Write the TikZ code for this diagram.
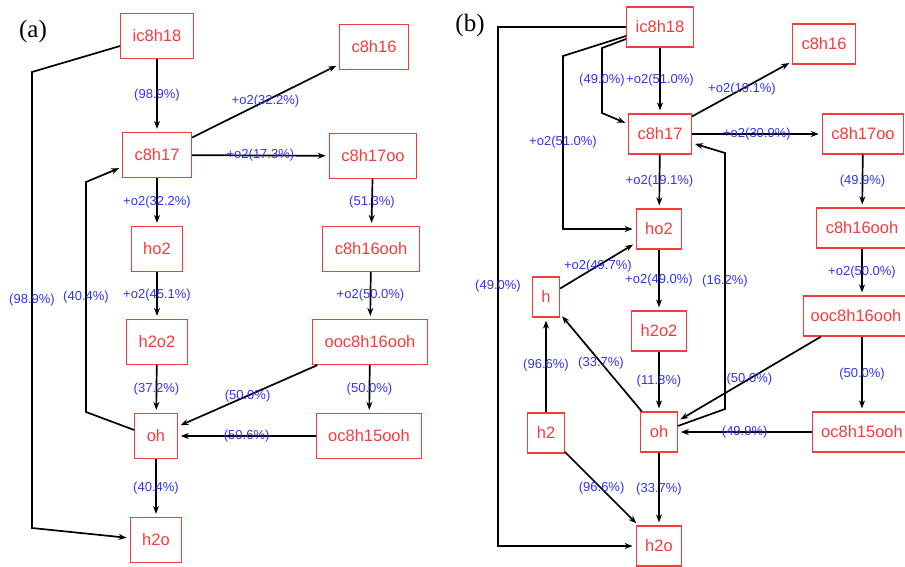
\documentclass[tikz,border=0pt]{standalone}
\usepackage{fontspec}
\setmainfont{Liberation Serif}
\setsansfont{Liberation Sans}
\usetikzlibrary{arrows.meta}
\definecolor{specred}{RGB}{245,60,60}
\definecolor{rateblue}{RGB}{50,50,245}

\begin{document}
\begin{tikzpicture}[x=1pt, y=-1pt, >={Stealth[length=8pt,width=6pt]},
    species/.style={rectangle, draw=specred, line width=1.2pt, text=specred,
        font=\sffamily\fontsize{16.5}{17}\selectfont, minimum height=45pt, inner xsep=12pt},
    smallsp/.style={species, minimum height=40pt, inner xsep=9pt},
    rate/.style={text=rateblue, font=\sffamily\fontsize{13}{14}\selectfont, inner sep=0pt},
    flux/.style={->, line width=1.7pt, shorten >=3pt},
    panel/.style={font=\fontsize{25}{26}\selectfont}]
    \useasboundingbox (0,0) rectangle (905,566);

    % (a)
    \node[panel] (pa) at (33,31) {(a)};
    \node[species] (aic) at (157,36) {ic8h18};
    \node[species] (ac816) at (374,47) {c8h16};
    \node[species] (ac817) at (157,155) {c8h17};
    \node[species] (ac817oo) at (373,156) {c8h17oo};
    \node[species] (aho2) at (157,249) {ho2};
    \node[species] (ac816ooh) at (371,249) {c8h16ooh};
    \node[species] (ah2o2) at (157,342) {h2o2};
    \node[species] (aooc) at (370,342) {ooc8h16ooh};
    \node[species] (aoh) at (156,436) {oh};
    \node[species] (aoc815) at (369,436) {oc8h15ooh};
    \node[species] (ah2o) at (156,540) {h2o};

    \path[flux]
    (aic) edge node[rate] {(98.9\%)} (ac817)
    (ac817) edge node[rate] {+o2(32.2\%)} (ac816)
    (ac817) edge node[rate] {+o2(17.3\%)} (ac817oo)
    (ac817) edge node[rate] {+o2(32.2\%)} (aho2)
    (ac817oo) edge node[rate] {(51.3\%)} (ac816ooh)
    (aho2) edge node[rate] {+o2(45.1\%)} (ah2o2)
    (ac816ooh) edge node[rate] {+o2(50.0\%)} (aooc)
    (ah2o2) edge node[rate] {(37.2\%)} (aoh)
    (aooc) edge node[rate] {(50.0\%)} (aoh)
    (aooc) edge node[rate] {(50.0\%)} (aoc815)
    (aoc815) edge node[rate] {(50.6\%)} (aoh)
    (aoh) edge node[rate] {(40.4\%)} (ah2o);
    \draw[flux] ([yshift=6pt]aoh.west) -- (86,412) -- node[rate] {(40.4\%)} (86,182) -- ([yshift=-12pt]ac817.west);
    \draw[flux] ([yshift=-10pt]aic.west) -- (32,72) -- node[rate] {(98.9\%)} (32,528) -- ([yshift=2pt]ah2o.west);

    % (b)
    \node[panel] (pb) at (470,25) {(b)};
    \node[smallsp] (bic) at (660,27) {ic8h18};
    \node[smallsp] (bc816) at (824,44) {c8h16};
    \node[smallsp] (bc817) at (660,134) {c8h17};
    \node[smallsp] (bc817oo) at (863,134) {c8h17oo};
    \node[smallsp] (bho2) at (659,229) {ho2};
    \node[smallsp] (bc816ooh) at (862,228) {c8h16ooh};
    \node[smallsp] (bh) at (546,297) {h};
    \node[smallsp] (bh2o2) at (659,331) {h2o2};
    \node[smallsp, inner xsep=7pt] (booc) at (856,316) {ooc8h16ooh};
    \node[smallsp] (bh2) at (546,433) {h2};
    \node[smallsp] (boh) at (659,432) {oh};
    \node[smallsp] (boc815) at (862,432) {oc8h15ooh};
    \node[smallsp] (bh2o) at (659,546) {h2o};

    \path[flux]
    (bic) edge node[rate] {+o2(51.0\%)} (bc817)
    (bc817) edge node[rate] {+o2(19.1\%)} (bc816)
    (bc817) edge node[rate] {+o2(30.9\%)} (bc817oo)
    (bc817) edge node[rate] {+o2(19.1\%)} (bho2)
    (bc817oo) edge node[rate] {(49.9\%)} (bc816ooh)
    (bh) edge node[rate] {+o2(49.7\%)} (bho2)
    (bho2) edge node[rate] {+o2(49.0\%)} (bh2o2)
    (bc816ooh) edge node[rate] {+o2(50.0\%)} (bc816ooh |- booc.north)
    (bh2o2) edge node[rate] {(11.8\%)} (boh)
    (booc) edge node[rate] {(50.0\%)} (boh)
    (bc816ooh |- booc.south) edge node[rate] {(50.0\%)} (boc815)
    (boc815) edge node[rate] {(49.9\%)} (boh)
    (boh) edge node[rate] {(33.7\%)} (bh)
    (bh2) edge node[rate] {(96.6\%)} (bh)
    (bh2) edge node[rate] {(96.6\%)} (bh2o)
    (boh) edge node[rate] {(33.7\%)} (bh2o);
    \draw[flux] (bic.west) -- (498,27) -- node[rate] {(49.0\%)} (498,546) -- (bh2o.west);
    \draw[flux] ([yshift=-12pt]bic.west) -- (602,48) -- node[rate] {(49.0\%)} (602,113) -- ([yshift=10pt]bc817.west);
    \draw[flux] ([yshift=-9pt]bic.west) -- (563,56) -- node[rate] {+o2(51.0\%)} (563,229) -- (bho2.west);
    \draw[flux] ([yshift=6pt]boh.east) -- (725,409) -- node[rate] {(16.2\%)} (725,153) -- ([yshift=-9pt]bc817.east);
\end{tikzpicture}
\end{document}
